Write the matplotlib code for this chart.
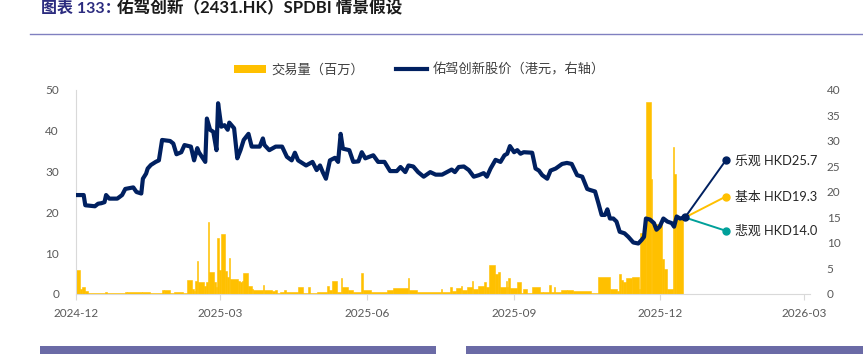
import numpy as np
import pandas as pd
import matplotlib
matplotlib.use('Agg')
import matplotlib.pyplot as plt
import matplotlib.dates as mdates
from matplotlib.patches import Patch, Rectangle
from matplotlib.lines import Line2D

plt.rcParams['font.family'] = ['Lato', 'Noto Sans CJK SC', 'DejaVu Sans']

# days counted from 2024-12-01
base = pd.Timestamp('2024-12-01')

# share price, HKD (right axis)
px_day = [0, 5, 6, 12, 14, 16, 18, 19, 21, 26, 29, 31, 36, 38, 41, 42, 44, 45, 47, 50, 52, 54, 59, 61, 63,
          66, 68, 72, 74, 76, 77, 81, 82, 84, 86, 88, 89, 91, 93, 95, 96, 99, 101, 103, 105, 108, 110, 115,
          117, 118, 121, 125, 129, 132, 135, 137, 139, 144, 148, 150.6, 152.7, 154.4, 156.4, 158.9, 162, 164,
          165.6, 167, 171, 173.5, 176.7, 178.8, 181, 186, 189, 193, 196.5, 200.7, 203, 206, 208, 211, 214,
          217.5, 221.6, 225, 229, 232, 235, 237, 239.4, 242.6, 245.7, 248.8, 252, 255, 257, 259.3, 262.4,
          265.5, 268, 269.7, 271.4, 274, 276, 278, 280, 285.3, 287.4, 289.5, 291.6, 294.7, 296.8, 300, 304,
          307, 310, 313.4, 316.6, 319.7, 321.4, 324.6, 326.7, 328.7, 330.8, 332.3, 333.9, 336, 338, 340, 343,
          345.4, 348.5, 351.6, 353.7, 355.2, 356.4, 358.9, 361.4, 363, 365, 367.3, 369.8, 372.5, 374, 375.6,
          377.7, 380.8]
px_val = [19.4, 19.4, 17.4, 17.2, 17.7, 17.8, 18.0, 19.4, 18.7, 18.7, 19.4, 20.6, 20.9, 20.0, 19.7, 22.6,
          23.6, 24.6, 25.3, 25.9, 26.2, 30.2, 30.0, 29.5, 27.4, 27.8, 29.2, 28.9, 26.2, 28.6, 27.8, 25.9, 34.4,
          32.2, 31.8, 28.2, 37.4, 32.8, 33.1, 32.2, 33.6, 32.5, 26.6, 28.2, 30.2, 31.4, 28.9, 28.9, 30.5, 29.2,
          28.2, 28.9, 28.9, 26.9, 26.2, 27.7, 26.2, 25.2, 25.9, 24.3, 25.2, 23.9, 22.6, 26.2, 26.7, 25.9, 31.4,
          28.5, 28.2, 25.9, 26.0, 27.8, 26.6, 27.2, 25.9, 25.9, 24.1, 24.1, 24.9, 23.9, 25.2, 25.0, 23.9, 23.0,
          23.9, 23.4, 23.4, 23.9, 24.4, 23.9, 24.9, 25.0, 24.3, 23.0, 23.3, 23.7, 23.0, 24.6, 26.3, 25.9, 27.2,
          27.5, 29.0, 27.8, 28.2, 27.5, 27.8, 27.7, 24.6, 24.2, 23.3, 22.6, 24.2, 24.6, 25.5, 25.7, 25.5, 23.3,
          23.0, 20.6, 20.4, 20.1, 17.8, 15.5, 15.5, 16.6, 14.8, 14.8, 14.2, 12.2, 11.9, 11.2, 10.1, 9.9, 10.6,
          11.2, 14.8, 14.6, 13.9, 12.6, 13.2, 14.8, 14.2, 13.9, 13.2, 15.2, 14.8, 15.0]

# trading volume, millions (left axis), each value holds until the next day
vol_day = [0, 2.7, 3.7, 5.8, 7.9, 18.3, 19.4, 30.8, 31.9, 41.2, 46.4, 53.7, 55.4, 58.9, 61.4, 67.3, 69.8,
           72.9, 73.9, 74.6, 75.6, 76.6, 80.2, 81.4, 82.5, 83.5, 86.7, 87.5, 88.3, 89.3, 90.6, 93.5, 94.3,
           95.6, 96.4, 101.6, 102.7, 103.7, 104.8, 107.9, 110.0, 111.0, 116.9, 117.7, 122.5, 124.6, 125.6,
           127.7, 130.2, 131.5, 139.1, 142.2, 145.4, 146.5, 151.0, 157.2, 158.3, 160.4, 163.1, 165.6, 166.4,
           170.5, 173.2, 178.5, 179.3, 184.4, 194.8, 198.6, 207.5, 208.2, 213.5, 228.3, 229.2, 233.9, 235.0,
           237.8, 240.6, 241.7, 244.7, 247.5, 248.4, 251.6, 255.2, 256.4, 258.3, 262.1, 264.1, 265.0, 269.0,
           269.8, 270.4, 271.3, 276.0, 278.3, 279.4, 282.3, 285.4, 290.2, 292.0, 296.0, 296.8, 299.0, 299.8,
           303.1, 307.0, 310.6, 321.8, 326.7, 333.9, 338.2, 339.5, 340.8, 342.0, 344.0, 347.4, 352.0, 352.7,
           356.2, 359.3, 360.4, 366.6, 367.7, 369.8, 373.3, 374.2, 375.0]
vol_val = [5.9, 1.2, 1.8, 0.7, 0.2, 0.6, 0.2, 0.6, 0.4, 0.6, 0.3, 1.1, 1.0, 0.3, 0.6, 0.2, 3.4, 1.2, 0.7,
           3.3, 8.0, 3.0, 2.0, 3.0, 17.6, 5.3, 2.9, 1.6, 13.7, 5.9, 14.6, 5.6, 4.1, 8.8, 3.7, 3.3, 2.9, 3.3,
           5.1, 2.0, 1.2, 1.1, 2.3, 1.0, 0.7, 1.0, 0.2, 0.4, 1.0, 0.4, 1.8, 0.2, 1.6, 0.2, 0.4, 2.0, 1.0, 3.3,
           0.4, 3.9, 1.8, 1.0, 0.4, 5.2, 1.0, 0.6, 1.0, 1.5, 3.9, 1.0, 0.4, 1.2, 0.4, 1.6, 0.8, 1.5, 2.0, 1.0,
           1.6, 3.3, 1.2, 2.0, 2.9, 1.6, 7.2, 4.9, 5.3, 1.6, 3.3, 1.8, 3.9, 1.4, 3.0, 0.2, 1.2, 0.2, 1.6, 0.4,
           0.6, 2.2, 0.6, 1.8, 0.6, 1.0, 1.1, 0.8, 0.3, 4.2, 1.2, 0.8, 4.9, 3.4, 3.0, 3.9, 4.1, 1.2, 15.0,
           47.1, 28.3, 17.2, 8.6, 6.1, 1.2, 36.1, 29.5, 18.9]
vol_end = 379.8

# scenarios
scen_day = 406.3
scen_names = ['乐观', '基本', '悲观']
scen_labels = ['HKD25.7', 'HKD19.3', 'HKD14.0']
scen_plot = [26.2, 19.1, 12.4]
scen_colors = ['#002060', '#FFC000', '#00A09A']

navy = '#002060'
gold = '#FFC000'
grey_txt = '#595959'
axis_grey = '#D9D9D9'


def to_num(days):
    return mdates.date2num(base + pd.to_timedelta(np.asarray(days, dtype=float), unit='D'))


fig = plt.figure(figsize=(8.63, 3.54), dpi=100)
ax = fig.add_axes([0.0877, 0.1695, 0.851, 0.5763])
ax2 = ax.twinx()

# volume bars
vx = to_num(vol_day)
vedges = np.append(vx, to_num([vol_end]))
ax.bar(vx, vol_val, width=np.diff(vedges), align='edge', color=gold, edgecolor=gold, linewidth=0.4)
ax.set_ylim(0, 50)
ax.set_yticks(range(0, 51, 10))

# price line
ax2.plot(to_num(px_day), px_val, color=navy, lw=3.0, solid_joinstyle='round', zorder=3)
ax2.set_ylim(0, 40)
ax2.set_yticks(range(0, 41, 5))

# scenario lines
x0 = to_num([px_day[-1]])[0]
x1 = to_num([scen_day])[0]
for name, lab, val, c in zip(scen_names, scen_labels, scen_plot, scen_colors):
    ax2.plot([x0, x1], [px_val[-1], val], color=c, lw=1.4, zorder=4)
    ax2.plot([x1], [val], 'o', color=c, ms=5, zorder=5)
    ax2.text(x1 + 5.5, val, name + ' ' + lab, va='center', ha='left', fontsize=9.3,
             color='#262626', family=['Lato', 'Noto Sans CJK SC'])
ax2.plot([x0], [px_val[-1]], 'o', color=navy, ms=5, zorder=5)

ax.set_xlim(to_num([0])[0], to_num([459])[0])
ax.xaxis.set_major_locator(mdates.MonthLocator(bymonth=[3, 6, 9, 12]))
ax.xaxis.set_major_formatter(mdates.DateFormatter('%Y-%m'))

for a in (ax, ax2):
    for s in ('top', 'right', 'left', 'bottom'):
        a.spines[s].set_visible(False)
ax.spines['left'].set_visible(True)
ax.spines['left'].set_color(axis_grey)
ax.spines['bottom'].set_visible(True)
ax.spines['bottom'].set_color(axis_grey)

ax.tick_params(axis='x', colors=grey_txt, labelsize=8.5, length=4, color=axis_grey, pad=6)
ax.tick_params(axis='y', colors=grey_txt, labelsize=8.5, length=0, pad=12)
ax2.tick_params(axis='y', colors=grey_txt, labelsize=8.5, length=0, pad=12)

# legend
handles = [Patch(facecolor=gold, edgecolor='none'),
           Line2D([0], [0], color=navy, lw=3)]
fig.legend(handles, ['交易量（百万）', '佑驾创新股价（港元，右轴）'], loc='center',
           bbox_to_anchor=(0.486, 0.802), ncol=2, frameon=False, handlelength=2.4,
           handleheight=0.55, handletextpad=0.4, columnspacing=2.4,
           prop={'family': ['Noto Sans CJK SC'], 'size': 9.5}, labelcolor='#404040')

# title and rule
fig.text(0.048, 0.978, '图表 133：', ha='left', va='center', fontsize=11.5, fontweight='bold',
         color='#2B2B7F', family=['Lato', 'Noto Sans CJK SC'])
fig.text(0.136, 0.978, '佑驾创新（2431.HK）SPDBI 情景假设', ha='left', va='center', fontsize=12,
         fontweight='bold', color='#1A1A1A', family=['Lato', 'Noto Sans CJK SC'])
fig.add_artist(Line2D([0.035, 1.0], [0.904, 0.904], color='#8080C0', lw=1))

# boxes at the bottom
fig.add_artist(Rectangle((40 / 863, 0), 396 / 863, 8 / 354, color='#6B6BA6', lw=0))
fig.add_artist(Rectangle((466 / 863, 0), 397 / 863, 8 / 354, color='#6B6BA6', lw=0))

fig.savefig('out.png', dpi=100)
